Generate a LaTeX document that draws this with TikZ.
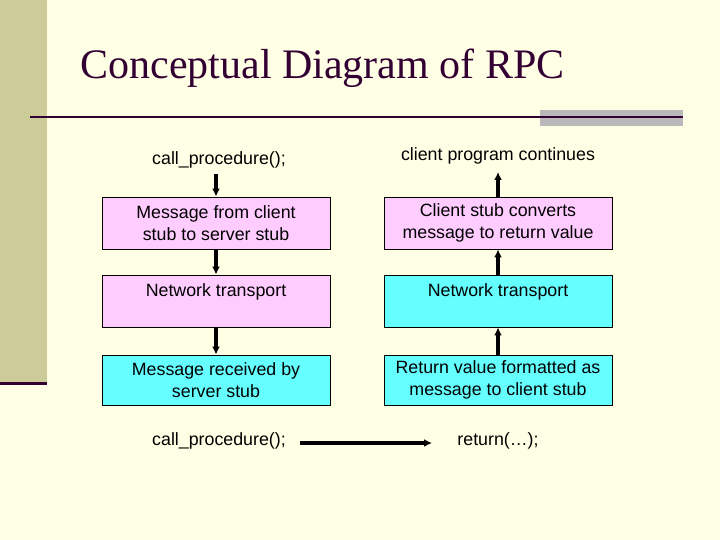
\documentclass[tikz,border=0pt]{standalone}
\usepackage{fontspec}
\setmainfont{Liberation Sans}
\newfontfamily\titlefont{Liberation Serif}
\usetikzlibrary{arrows.meta}
\definecolor{bg}{HTML}{FFFFE5}
\definecolor{side}{HTML}{CCCC99}
\definecolor{maroon}{HTML}{330033}
\definecolor{pinkb}{HTML}{FFCCFF}
\definecolor{cyanb}{HTML}{66FFFF}
\begin{document}
\begin{tikzpicture}[x=1pt,y=-1pt,
  box/.style={draw=black,line width=0.9pt,minimum width=228pt,minimum height=52pt,align=center,font=\fontsize{17.8}{22}\selectfont,inner sep=0pt},
  lbl/.style={font=\fontsize{17.8}{22}\selectfont},
  arr/.style={-{Latex[length=8pt,width=8pt]},line width=3.5pt}]
\fill[bg] (0,0) rectangle (720,540);
\useasboundingbox (0,0) rectangle (720,540);
\fill[side] (0,0) rectangle (47,383);
\draw[maroon,line width=3pt] (0,383) -- (47,383);
\fill[gray!55] (540,110) rectangle (683,126);
\draw[maroon,line width=2pt] (30,117) -- (683,117);
\node[font=\titlefont\fontsize{42}{48}\selectfont,text=maroon,anchor=west] (title) at (77,68) {Conceptual Diagram of RPC};
\node[lbl] (l0) at (219,160) {call\_procedure();};
\node[lbl] (r0) at (498,156) {client program continues};
\node[box,fill=pinkb] (l1) at (216,223) {Message from client\\stub to server stub};
\node[box,fill=pinkb] (r1) at (498,223) {Client stub converts\\message to return value};
\node[box,fill=pinkb,text depth=21pt] (l2) at (216,301) {Network transport};
\node[box,fill=cyanb,text depth=21pt] (r2) at (498,301) {Network transport};
\node[box,fill=cyanb,minimum height=50pt] (l3) at (216,380) {Message received by\\server stub};
\node[box,fill=cyanb,minimum height=50pt] (r3) at (498,380) {Return value formatted as\\message to client stub};
\node[lbl] (l4) at (219,441) {call\_procedure();};
\node[lbl] (r4) at (498,441) {return(\dots);};
\draw[arr] (216,174) -- (l1.north);
\draw[arr] (l1.south) -- (l2.north);
\draw[arr] (l2.south) -- (l3.north);
\draw[arr] (r1.north) -- (498,172);
\draw[arr] (r2.north) -- (r1.south);
\draw[arr] (r3.north) -- (r2.south);
\draw[arr] (300,443) -- (432,443);
\end{tikzpicture}
\end{document}
